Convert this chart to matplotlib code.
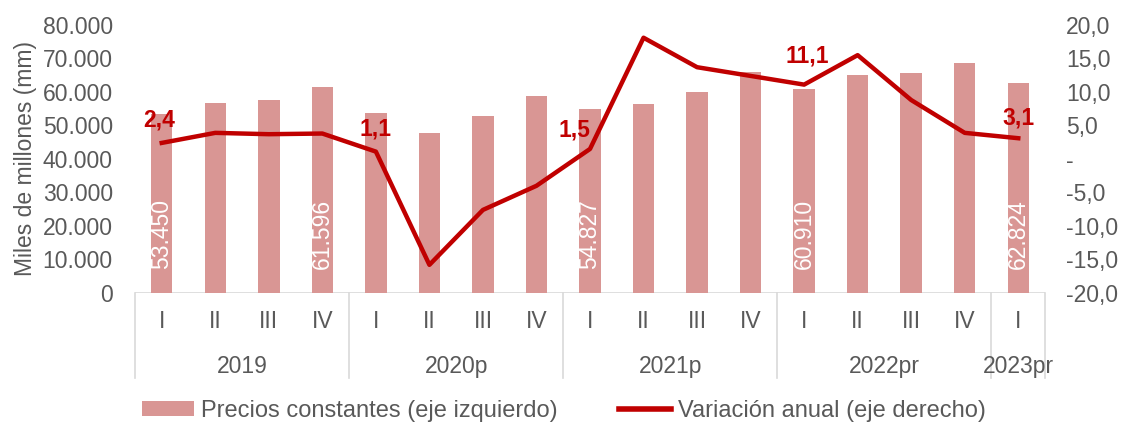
import matplotlib
matplotlib.use("Agg")
import matplotlib.pyplot as plt
import matplotlib.transforms as mtransforms
from matplotlib.lines import Line2D
from matplotlib.patches import Patch

plt.rcParams['font.family'] = ['Liberation Sans', 'DejaVu Sans']

quarters = ["I", "II", "III", "IV", "I", "II", "III", "IV", "I", "II", "III", "IV",
            "I", "II", "III", "IV", "I"]
years = ["2019", "2020p", "2021p", "2022pr", "2023pr"]
year_sizes = [4, 4, 4, 4, 1]

precios = [53450, 56700, 57600, 61596, 53700, 47800, 52800, 58800,
           54827, 56400, 60000, 66000, 60910, 65100, 65700, 68700, 62824]
variacion = [2.4, 3.9, 3.7, 3.8, 1.1, -15.8, -7.6, -4.0,
             1.5, 18.1, 13.7, 12.4, 11.1, 15.5, 8.8, 3.9, 3.1]

bar_label_idx = [0, 3, 8, 12, 16]
line_label_idx = [0, 4, 8, 12, 16]

BAR_COLOR = "#D99694"
LINE_COLOR = "#C00000"
TEXT_COLOR = "#595959"
GRID_COLOR = "#D9D9D9"
FS = 16.5

fig = plt.figure(figsize=(11.22, 4.25), dpi=100)
ax = fig.add_axes([0.1203, 0.3106, 0.8111, 0.6306])
ax2 = ax.twinx()

x = list(range(len(precios)))
ax.bar(x, precios, width=0.4, color=BAR_COLOR, zorder=2)
ax2.plot(x, variacion, color=LINE_COLOR, linewidth=3.2, zorder=3)

ax.set_xlim(-0.5, len(precios) - 0.5)
ax.set_ylim(0, 80000)
ax2.set_ylim(-20, 20)

ax.set_yticks(range(0, 80001, 10000))
ax.set_yticklabels([f"{v:,.0f}".replace(",", ".") for v in range(0, 80001, 10000)])
rticks = list(range(-20, 21, 5))
ax2.set_yticks(rticks)
ax2.set_yticklabels(["-" if v == 0 else f"{v:.1f}".replace(".", ",") for v in rticks])

ax.set_xticks(x)
ax.set_xticklabels(quarters)
ax.tick_params(axis="x", length=0, pad=12, labelsize=FS, labelcolor=TEXT_COLOR)
ax.tick_params(axis="y", length=0, pad=16, labelsize=FS, labelcolor=TEXT_COLOR)
ax2.tick_params(axis="y", length=0, pad=15, labelsize=FS, labelcolor=TEXT_COLOR)

for a in (ax, ax2):
    for s in ("top", "left", "right", "bottom"):
        a.spines[s].set_visible(False)
ax.axhline(0, color=GRID_COLOR, linewidth=1.2, zorder=1)

ax.set_ylabel("Miles de millones (mm)", fontsize=FS, color=TEXT_COLOR, labelpad=4)

# year groups
trans = mtransforms.blended_transform_factory(ax.transData, ax.transAxes)
start = -0.5
bounds = [start]
for name, n in zip(years, year_sizes):
    end = start + n
    ax.text((start + end) / 2, -0.275, name, transform=trans, ha="center", va="center",
            fontsize=FS, color=TEXT_COLOR)
    bounds.append(end)
    start = end
for b in bounds:
    ax.plot([b, b], [0, -0.317], transform=trans, color=GRID_COLOR, linewidth=1.2,
            clip_on=False)

# bar value labels
for i in bar_label_idx:
    ax.annotate(f"{precios[i]:,}".replace(",", "."), (i, 0), xytext=(0, 17),
                textcoords="offset points", rotation=90, ha="center", va="bottom",
                color="white", fontsize=FS, zorder=4)

# line value labels
offsets = {0: (-2, 8), 4: (0, 8), 8: (-11, 5), 12: (2, 12), 16: (0, 6)}
for i in line_label_idx:
    ax2.annotate(f"{variacion[i]:.1f}".replace(".", ","), (i, variacion[i]),
                 xytext=offsets[i], textcoords="offset points", ha="center",
                 va="bottom", color=LINE_COLOR, fontsize=FS, fontweight="bold", zorder=5)

handles = [Patch(facecolor=BAR_COLOR, edgecolor="none"),
           Line2D([0], [0], color=LINE_COLOR, linewidth=4)]
leg = fig.legend(handles, ["Precios constantes (eje izquierdo)", "Variación anual (eje derecho)"],
                 loc="center", bbox_to_anchor=(0.503, 0.033), ncol=2, frameon=False,
                 fontsize=17, handlelength=2.2, handleheight=0.6, columnspacing=2.6,
                 handletextpad=0.3)
for t in leg.get_texts():
    t.set_color(TEXT_COLOR)

fig.savefig("out.png", dpi=100)
